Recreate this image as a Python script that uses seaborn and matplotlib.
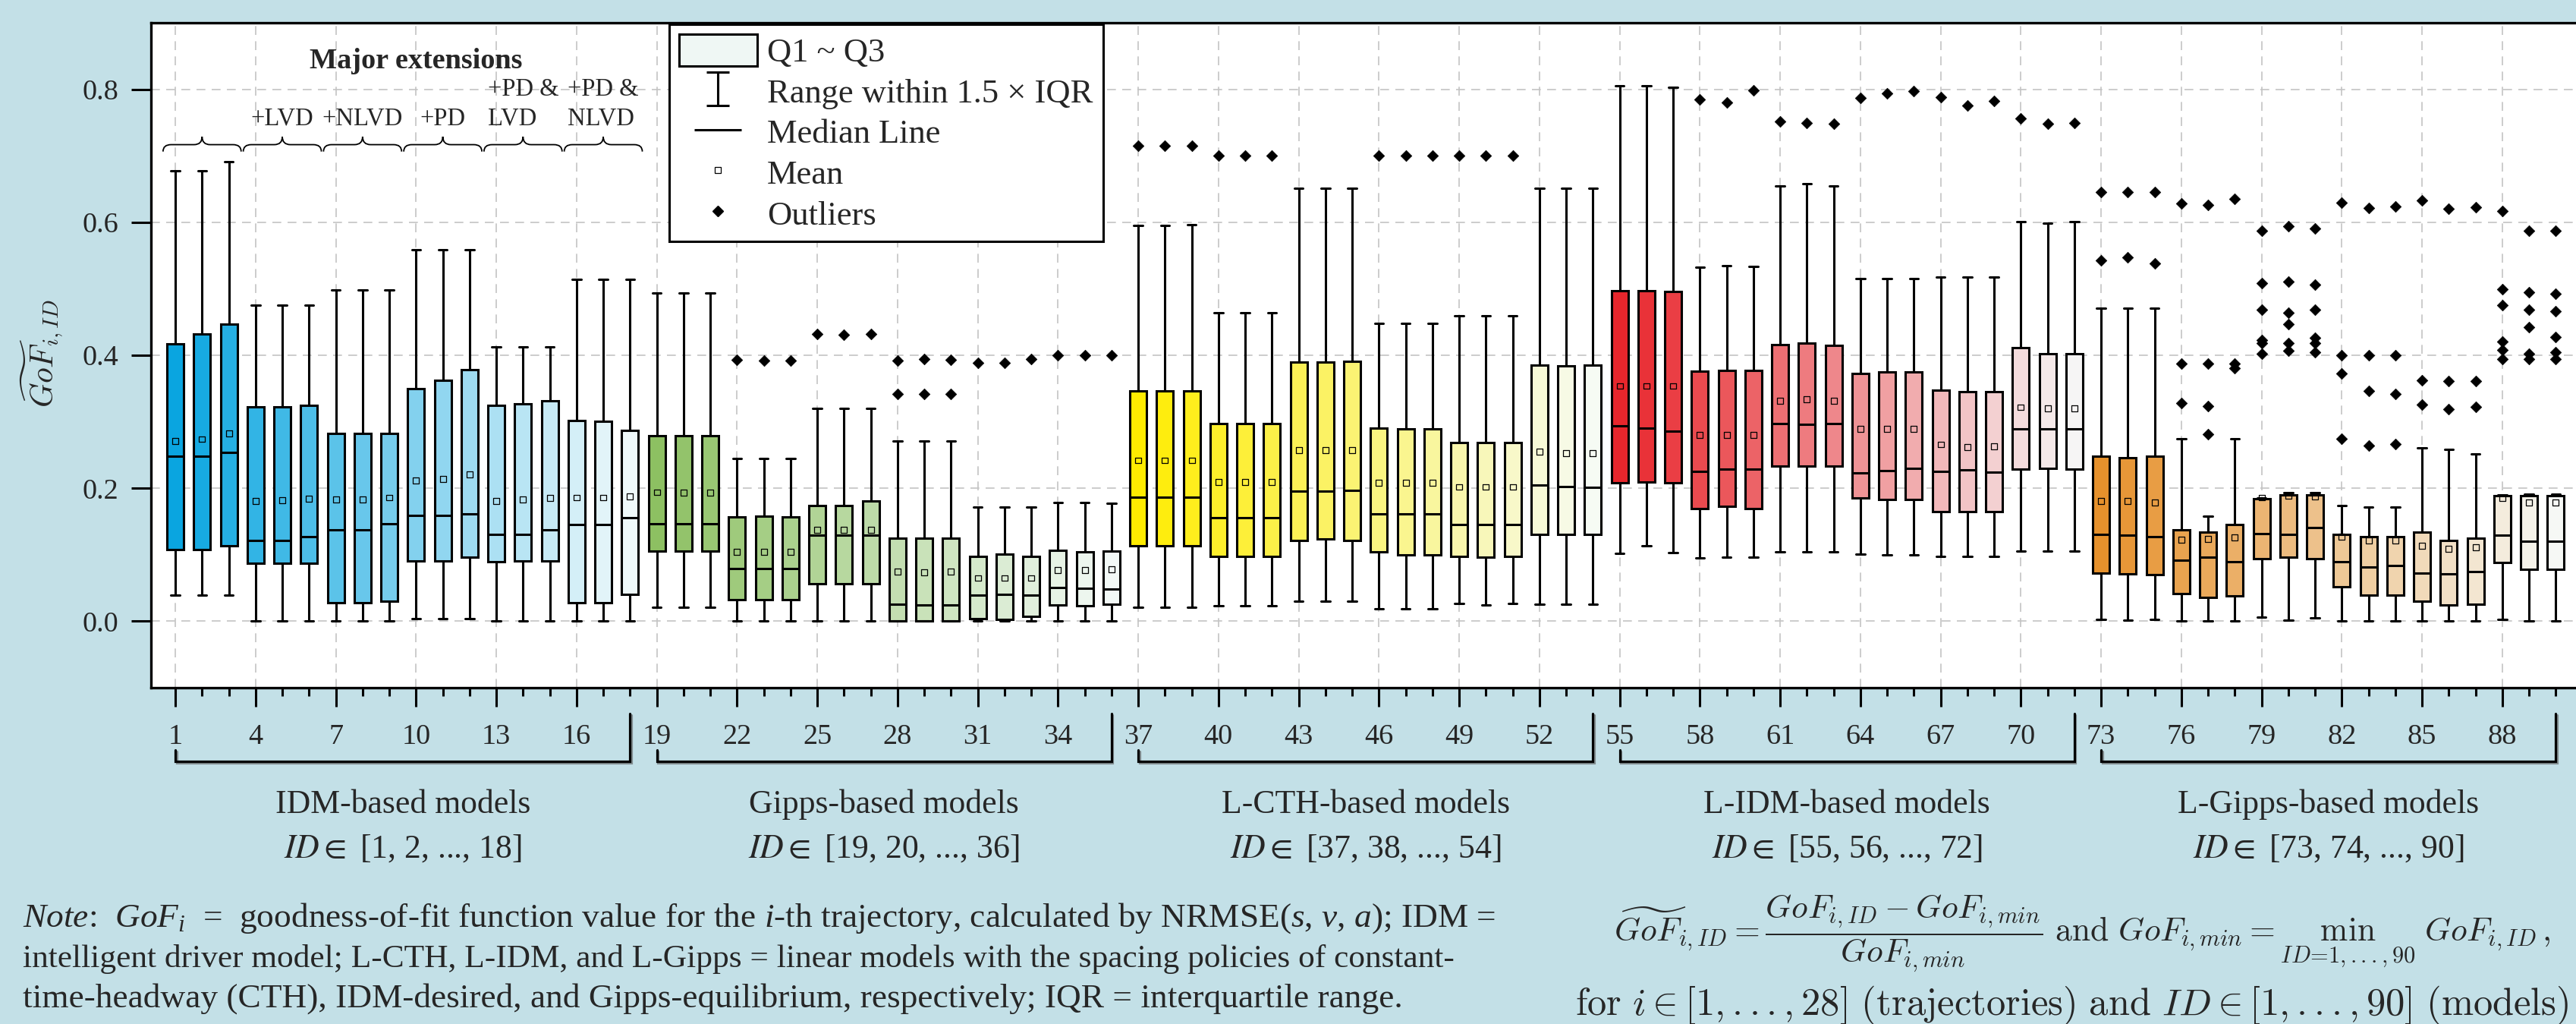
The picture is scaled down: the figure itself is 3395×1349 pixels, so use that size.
import numpy as np
import pandas as pd
import matplotlib
matplotlib.use("Agg")
import matplotlib.pyplot as plt
import matplotlib.transforms as mtrans
import matplotlib.patheffects as pe
from matplotlib.path import Path
from matplotlib.patches import PathPatch, Patch
from matplotlib.lines import Line2D
from matplotlib.colors import to_rgb
import seaborn as sns

# ---------------- data ----------------
ids = list(range(1, 91))

whis_hi = [0.678, 0.678, 0.691, 0.475, 0.475, 0.475, 0.498, 0.498, 0.498,
           0.559, 0.559, 0.559, 0.413, 0.413, 0.413, 0.514, 0.514, 0.514,
           0.494, 0.494, 0.494, 0.245, 0.245, 0.245, 0.320, 0.320, 0.320,
           0.271, 0.271, 0.271, 0.172, 0.172, 0.172, 0.179, 0.179, 0.177,
           0.595, 0.595, 0.597, 0.464, 0.464, 0.464, 0.651, 0.651, 0.651,
           0.448, 0.448, 0.448, 0.459, 0.459, 0.459, 0.651, 0.651, 0.651,
           0.806, 0.806, 0.803, 0.533, 0.535, 0.534, 0.655, 0.658, 0.655,
           0.516, 0.516, 0.516, 0.518, 0.518, 0.518, 0.601, 0.599, 0.601,
           0.471, 0.471, 0.471, 0.274, 0.158, 0.274, 0.185, 0.193, 0.193,
           0.174, 0.172, 0.172, 0.261, 0.259, 0.252, 0.190, 0.191, 0.191]
q3 = [0.417, 0.432, 0.447, 0.322, 0.322, 0.325, 0.283, 0.283, 0.283,
      0.350, 0.363, 0.379, 0.325, 0.327, 0.332, 0.302, 0.301, 0.287,
      0.279, 0.279, 0.279, 0.157, 0.158, 0.157, 0.174, 0.174, 0.181,
      0.125, 0.125, 0.125, 0.098, 0.101, 0.098, 0.107, 0.104, 0.106,
      0.347, 0.347, 0.347, 0.297, 0.297, 0.297, 0.390, 0.390, 0.391,
      0.290, 0.289, 0.289, 0.269, 0.269, 0.269, 0.385, 0.384, 0.385,
      0.497, 0.497, 0.496, 0.376, 0.377, 0.377, 0.416, 0.419, 0.415,
      0.373, 0.375, 0.375, 0.348, 0.345, 0.345, 0.412, 0.403, 0.403,
      0.248, 0.246, 0.248, 0.137, 0.134, 0.146, 0.184, 0.190, 0.190,
      0.131, 0.127, 0.127, 0.134, 0.122, 0.125, 0.189, 0.189, 0.189]
median = [0.248, 0.248, 0.254, 0.121, 0.121, 0.127, 0.138, 0.138, 0.147,
          0.159, 0.159, 0.162, 0.131, 0.131, 0.138, 0.146, 0.146, 0.156,
          0.147, 0.147, 0.147, 0.079, 0.079, 0.079, 0.129, 0.129, 0.129,
          0.026, 0.024, 0.024, 0.039, 0.041, 0.039, 0.051, 0.050, 0.049,
          0.187, 0.187, 0.187, 0.156, 0.156, 0.156, 0.196, 0.196, 0.197,
          0.162, 0.161, 0.161, 0.145, 0.145, 0.145, 0.205, 0.203, 0.201,
          0.294, 0.291, 0.286, 0.226, 0.229, 0.229, 0.297, 0.296, 0.297,
          0.223, 0.227, 0.230, 0.226, 0.228, 0.224, 0.289, 0.289, 0.289,
          0.131, 0.129, 0.127, 0.092, 0.096, 0.090, 0.132, 0.131, 0.141,
          0.089, 0.082, 0.084, 0.072, 0.071, 0.075, 0.130, 0.120, 0.120]
q1 = [0.108, 0.108, 0.113, 0.087, 0.087, 0.087, 0.028, 0.028, 0.030,
      0.091, 0.091, 0.096, 0.089, 0.091, 0.091, 0.028, 0.028, 0.041,
      0.105, 0.105, 0.105, 0.032, 0.032, 0.033, 0.057, 0.057, 0.057,
      0.001, 0.001, 0.001, 0.004, 0.003, 0.007, 0.024, 0.023, 0.026,
      0.114, 0.114, 0.114, 0.097, 0.097, 0.097, 0.122, 0.124, 0.122,
      0.104, 0.100, 0.100, 0.098, 0.096, 0.097, 0.131, 0.131, 0.131,
      0.208, 0.210, 0.208, 0.170, 0.173, 0.170, 0.234, 0.234, 0.233,
      0.186, 0.183, 0.183, 0.165, 0.165, 0.165, 0.229, 0.230, 0.229,
      0.073, 0.071, 0.070, 0.042, 0.036, 0.038, 0.094, 0.096, 0.094,
      0.052, 0.039, 0.039, 0.030, 0.024, 0.026, 0.088, 0.078, 0.078]
whis_lo = [0.039, 0.039, 0.039, 0.0, 0.0, 0.0, 0.0, 0.0, 0.0,
           0.004, 0.004, 0.004, 0.001, 0.001, 0.001, 0.0, 0.0, 0.0,
           0.021, 0.021, 0.021, 0.0, 0.0, 0.0, 0.0, 0.0, 0.0,
           0.0, 0.0, 0.0, 0.0, 0.0, 0.0, 0.0, 0.001, 0.001,
           0.021, 0.021, 0.021, 0.023, 0.023, 0.023, 0.030, 0.030, 0.030,
           0.019, 0.019, 0.019, 0.027, 0.024, 0.027, 0.026, 0.026, 0.026,
           0.102, 0.113, 0.103, 0.095, 0.096, 0.096, 0.104, 0.104, 0.104,
           0.101, 0.100, 0.100, 0.098, 0.098, 0.098, 0.105, 0.105, 0.105,
           0.003, 0.002, 0.003, 0.001, 0.001, 0.001, 0.006, 0.002, 0.005,
           0.001, 0.0, 0.0, 0.0, 0.0, 0.0, 0.003, 0.001, 0.0]
mean = [0.271, 0.274, 0.283, 0.181, 0.182, 0.184, 0.183, 0.183, 0.186,
        0.212, 0.214, 0.221, 0.181, 0.183, 0.185, 0.186, 0.186, 0.188,
        0.194, 0.193, 0.193, 0.104, 0.104, 0.104, 0.138, 0.138, 0.138,
        0.075, 0.074, 0.075, 0.065, 0.065, 0.065, 0.077, 0.077, 0.078,
        0.242, 0.242, 0.242, 0.209, 0.209, 0.209, 0.257, 0.257, 0.257,
        0.208, 0.208, 0.208, 0.202, 0.202, 0.202, 0.255, 0.253, 0.253,
        0.354, 0.354, 0.354, 0.280, 0.280, 0.280, 0.332, 0.334, 0.332,
        0.289, 0.289, 0.289, 0.266, 0.262, 0.263, 0.322, 0.320, 0.320,
        0.181, 0.181, 0.179, 0.123, 0.124, 0.126, 0.186, 0.189, 0.188,
        0.127, 0.122, 0.122, 0.114, 0.109, 0.111, 0.185, 0.179, 0.179]
outliers = {
    22: [0.393], 23: [0.392], 24: [0.392],
    25: [0.432], 26: [0.431], 27: [0.432],
    28: [0.392, 0.342], 29: [0.395, 0.342], 30: [0.393, 0.342],
    31: [0.389], 32: [0.389], 33: [0.394],
    34: [0.400], 35: [0.400], 36: [0.400],
    37: [0.715], 38: [0.715], 39: [0.715],
    40: [0.700], 41: [0.700], 42: [0.700],
    46: [0.700], 47: [0.700], 48: [0.701],
    49: [0.700], 50: [0.700], 51: [0.700],
    58: [0.785], 59: [0.780], 60: [0.799],
    61: [0.752], 62: [0.750], 63: [0.748],
    64: [0.787], 65: [0.794], 66: [0.797],
    67: [0.788], 68: [0.776], 69: [0.783],
    70: [0.757], 71: [0.748], 72: [0.750],
    73: [0.646, 0.543], 74: [0.646, 0.548], 75: [0.646, 0.538],
    76: [0.629, 0.388, 0.328], 77: [0.626, 0.388, 0.324, 0.281],
    78: [0.635, 0.388, 0.381],
    79: [0.588, 0.509, 0.469, 0.423, 0.418, 0.403],
    80: [0.594, 0.511, 0.464, 0.447, 0.418, 0.407],
    81: [0.591, 0.506, 0.469, 0.426, 0.418, 0.405],
    82: [0.630, 0.400, 0.373, 0.275], 83: [0.622, 0.400, 0.346, 0.264],
    84: [0.624, 0.400, 0.342, 0.266],
    85: [0.633, 0.363, 0.326], 86: [0.621, 0.361, 0.319], 87: [0.623, 0.361, 0.322],
    88: [0.617, 0.499, 0.476, 0.421, 0.408, 0.395],
    89: [0.587, 0.495, 0.469, 0.442, 0.402, 0.395],
    90: [0.588, 0.493, 0.466, 0.428, 0.405, 0.394],
}

group_names = ["IDM-based models", "Gipps-based models", "L-CTH-based models",
               "L-IDM-based models", "L-Gipps-based models"]
group_ranges = ["[1, 2, ..., 18]", "[19, 20, ..., 36]", "[37, 38, ..., 54]",
                "[55, 56, ..., 72]", "[73, 74, ..., 90]"]
group_base_colors = ["#0AA5E0", "#8DC062", "#FFEC00", "#E8262C", "#E6912C"]
ext_top = ["", "", "", "", "+PD &", "+PD &"]
ext_bottom = ["", "+LVD", "+NLVD", "+PD", "LVD", "NLVD"]
y_ticks = [0.0, 0.2, 0.4, 0.6, 0.8]
x_ticks = list(range(1, 91, 3))

# ---------------- style ----------------
sns.set_theme(style="white")
plt.rcParams["font.family"] = ["Liberation Serif", "DejaVu Serif"]
plt.rcParams["mathtext.fontset"] = "custom"
plt.rcParams["mathtext.rm"] = "Liberation Serif"
plt.rcParams["mathtext.it"] = "Liberation Serif:italic"
plt.rcParams["mathtext.bf"] = "Liberation Serif:bold"
plt.rcParams["axes.unicode_minus"] = False

BG = "#C3E0E7"
W, H, DPI = 3395, 1349, 100
fig = plt.figure(figsize=(W / DPI, H / DPI), dpi=DPI, facecolor=BG)

ax_left_px, ax_top_px, ax_bot_px = 199, 30.3, 906
xmin, xmax = 0.09, 91.0
px_per_unit = 35.25
ax_w_px = (xmax - xmin) * px_per_unit
ax = fig.add_axes([ax_left_px / W, 1 - ax_bot_px / H, ax_w_px / W,
                   (ax_bot_px - ax_top_px) / H])
ax.set_facecolor("white")

# colours: each group fades from base colour to near white
def fade(base, t):
    b = np.array(to_rgb(base))
    return tuple(b + (np.array([0.965, 0.985, 0.985]) - b) * t)

colors = []
for base in group_base_colors:
    for k in range(18):
        colors.append(fade(base, k / 17 * 0.97))

stats = []
for i, pid in enumerate(ids):
    stats.append(dict(whislo=whis_lo[i], q1=q1[i], med=median[i], q3=q3[i],
                      whishi=whis_hi[i], fliers=[], label=str(pid)))

bp = ax.bxp(stats, positions=ids, widths=0.62, patch_artist=True,
            showfliers=False, showmeans=False, capwidths=0.33,
            boxprops=dict(edgecolor="black", linewidth=2.2),
            whiskerprops=dict(color="black", linewidth=2.2),
            capprops=dict(color="black", linewidth=2.2),
            medianprops=dict(color="black", linewidth=2.2),
            manage_ticks=False, zorder=3)
for patch, c in zip(bp["boxes"], colors):
    patch.set_facecolor(c)

mean_df = pd.DataFrame({"ID": ids, "mean": mean})
sns.scatterplot(data=mean_df, x="ID", y="mean", marker="s", s=32,
                facecolor="none", edgecolor="black", linewidth=0.9,
                ax=ax, zorder=5, legend=False)

out_rows = [(k, v) for k, vals in outliers.items() for v in vals]
out_df = pd.DataFrame(out_rows, columns=["ID", "value"])
sns.scatterplot(data=out_df, x="ID", y="value", marker="D", s=55,
                color="black", edgecolor="black", linewidth=0.5,
                ax=ax, zorder=5, legend=False)

ax.set_xlim(xmin, xmax)
ax.set_ylim(-0.1, 0.9)
ax.set_xticks(x_ticks)
ax.set_xticks(ids, minor=True)
ax.set_xticklabels([str(t) for t in x_ticks], fontsize=27.5)
ax.set_yticks(y_ticks)
ax.set_yticklabels([f"{t:.1f}" for t in y_ticks], fontsize=27.5)
ax.set_xlabel("")
ax.set_ylabel("")
ax.tick_params(axis="x", which="major", direction="out", length=18,
               width=2.2, pad=16, color="black", bottom=True)
ax.tick_params(axis="x", which="minor", direction="out", length=8,
               width=2.2, color="black", bottom=True)
ax.tick_params(axis="y", which="major", direction="out", length=19,
               width=2.2, pad=12, color="black", left=True)
ax.grid(True, which="major", color="#c4c4c4", linewidth=1.2,
        linestyle=(0, (7, 5)))
ax.set_axisbelow(True)
for s in ax.spines.values():
    s.set_color("black")
    s.set_linewidth(2.4)

# ---------------- extension braces ----------------
def brace(x0, x1, yb, yh, yt, d):
    xm = (x0 + x1) / 2
    verts = [(x0, yb), (x0, yh), (x0 + d, yh), (xm - d, yh), (xm, yh), (xm, yt),
             (xm, yh), (xm + d, yh), (x1 - d, yh), (x1, yh), (x1, yb)]
    codes = [Path.MOVETO, Path.CURVE3, Path.CURVE3, Path.LINETO, Path.CURVE3,
             Path.CURVE3, Path.CURVE3, Path.CURVE3, Path.LINETO, Path.CURVE3,
             Path.CURVE3]
    return Path(verts, codes)

for j in range(6):
    c = ids[3 * j + 1]
    ax.add_patch(PathPatch(brace(c - 1.46, c + 1.46, 0.7066, 0.717, 0.729, 0.3),
                           fill=False, edgecolor="black", lw=1.3, zorder=4))
    label = ext_bottom[j] if not ext_top[j] else ext_top[j] + "\n" + ext_bottom[j]
    if label:
        yc = 0.756 if not ext_top[j] else 0.778
        ax.text(c, yc, label, ha="center", va="center", fontsize=23.5,
                multialignment="left", linespacing=1.35, zorder=6)
ax.text(np.mean(ids[:18]) + 0.5, 0.843, "Major extensions", ha="center",
        va="center", fontsize=27.5, fontweight="bold", zorder=6)

# ---------------- group brackets & labels ----------------
trans = mtrans.blended_transform_factory(ax.transData, ax.transAxes)
shadow = [pe.SimpleLineShadow(offset=(1.2, -1.2), shadow_color="#555555", alpha=0.6),
          pe.Normal()]
for g in range(5):
    x0, x1 = ids[18 * g], ids[18 * g + 17]
    ax.plot([x0, x0, x1, x1], [-0.0936, -0.1108, -0.1108, -0.0388],
            transform=trans, clip_on=False, color="black", lw=2.3,
            solid_joinstyle="miter", path_effects=shadow)
    xc = (x0 + x1) / 2
    ax.text(xc, -0.176, group_names[g], transform=trans, ha="center",
            va="center", fontsize=31.5)
    ax.text(xc, -0.242, r"$\mathit{ID} \in$ " + group_ranges[g], transform=trans,
            ha="center", va="center", fontsize=31.5, math_fontfamily="stix")

# ---------------- legend ----------------
ibeam = Path([(-0.67, 1), (0.67, 1), (0, 1), (0, -1), (-0.67, -1), (0.67, -1)],
             [Path.MOVETO, Path.LINETO, Path.MOVETO, Path.LINETO, Path.MOVETO,
              Path.LINETO])
hline = Path([(-1, 0), (1, 0)], [Path.MOVETO, Path.LINETO])
handles = [
    Patch(facecolor="#EFF7F4", edgecolor="black", linewidth=2.2),
    Line2D([], [], ls="none", marker=ibeam, markersize=32, mfc="none",
           mec="black", mew=2.2),
    Line2D([], [], ls="none", marker=hline, markersize=44, mec="black", mew=2.2),
    Line2D([], [], ls="none", marker="s", markersize=5.5, mfc="none",
           mec="black", mew=0.9),
    Line2D([], [], ls="none", marker="D", markersize=7, mfc="black", mec="black"),
]
labels = ["Q1 ~ Q3", "Range within 1.5 × IQR", "Median Line", "Mean", "Outliers"]
leg = fig.legend(handles, labels, loc="upper left",
                 bbox_to_anchor=(882 / W, 1 - 32 / H), fontsize=32,
                 frameon=True, fancybox=False, edgecolor="black",
                 framealpha=1, facecolor="white", borderpad=0.3,
                 handlelength=2.3, handleheight=1.05, handletextpad=0.3,
                 labelspacing=0.2, borderaxespad=0)
leg.get_frame().set_linewidth(2.2)

# ---------------- y label ----------------
fig.text(55 / W, 1 - 466 / H, r"$\widetilde{GoF}_{i,ID}$", rotation=90,
         ha="center", va="center", fontsize=30, math_fontfamily="cm")

# ---------------- note & formula ----------------
fig.canvas.draw()
renderer = fig.canvas.get_renderer()

def fitted_text(x_px, y_px, s, target_w, fs, lo=None, hi=None, **kw):
    """Place text whose rendered width matches the reference width."""
    t = fig.text(x_px / W, 1 - y_px / H, s, fontsize=fs, **kw)
    w = t.get_window_extent(renderer).width
    new_fs = fs * target_w / w
    if lo is not None:
        new_fs = max(lo, new_fs)
    if hi is not None:
        new_fs = min(hi, new_fs)
    t.set_fontsize(new_fs)
    return t

note_lines = [
    r"$\mathit{Note}$:  $\mathit{GoF}_{i}$  =  goodness-of-fit function value for the "
    r"$\mathit{i}$-th trajectory, calculated by NRMSE($\mathit{s}$, $\mathit{v}$, "
    r"$\mathit{a}$); IDM =",
    "intelligent driver model; L-CTH, L-IDM, and L-Gipps = linear models with the "
    "spacing policies of constant-",
    "time-headway (CTH), IDM-desired, and Gipps-equilibrium, respectively; "
    "IQR = interquartile range.",
]
note_baselines = [1221, 1274, 1327]
note_widths = [1942, 1887, 1820]
for txt, yb, tw in zip(note_lines, note_baselines, note_widths):
    fitted_text(30, yb, txt, tw, 32.5, lo=30, hi=36, ha="left", va="baseline")

formula1 = (r"$\widetilde{GoF}_{i,ID} = \dfrac{GoF_{i,ID} - GoF_{i,min}}{GoF_{i,min}}"
            r"\ \mathrm{and}\ GoF_{i,min} = \min_{ID=1,...,90}\ GoF_{i,ID},$")
formula2 = (r"$\mathrm{for}\ i \in [1, ..., 28]\ (\mathrm{trajectories})\ "
            r"\mathrm{and}\ ID \in [1, ..., 90]\ (\mathrm{models})$")
fitted_text(2127, 1230, formula1, 3362 - 2127, 31, ha="left", va="center",
            math_fontfamily="cm")
fitted_text(2076, 1337, formula2, 3386 - 2076, 32, ha="left", va="baseline",
            math_fontfamily="cm")

fig.savefig("out.png", dpi=DPI, facecolor=BG)
